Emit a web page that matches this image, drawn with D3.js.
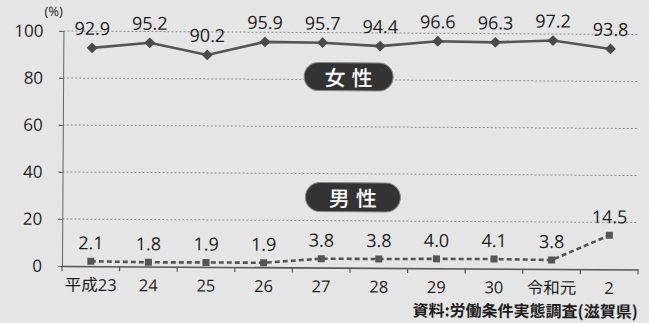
<!DOCTYPE html>
<html>
<head>
<meta charset="utf-8">
<script src="https://cdn.jsdelivr.net/npm/d3@7/dist/d3.min.js"></script>
<style>
  html, body { margin: 0; padding: 0; background: #e8e8e8; }
  svg { display: block; }
  text { font-family: "Open Sans", "Noto Sans CJK JP", sans-serif; fill: #1e1e1e; }
  .jp { font-family: "Noto Sans CJK JP", sans-serif; }
</style>
</head>
<body>
<svg id="chart" width="649" height="323"></svg>
<script>
// 年次（和暦）
const years = ["平成23", "24", "25", "26", "27", "28", "29", "30", "令和元", "2"];
// 育児休業取得率（%）
const female = [92.9, 95.2, 90.2, 95.9, 95.7, 94.4, 96.6, 96.3, 97.2, 93.8];
const male = [2.1, 1.8, 1.9, 1.9, 3.8, 3.8, 4.0, 4.1, 3.8, 14.5];
const yTicks = [0, 20, 40, 60, 80, 100];
const source = "資料:労働条件実態調査(滋賀県)";

const svg = d3.select("#chart");
const W = 649, H = 323;
const mLeft = 62, mRight = 638, mTop = 31, mBottom = 266;

// paper texture
const defs = svg.append("defs");
const f = defs.append("filter").attr("id", "grain").attr("x", 0).attr("y", 0).attr("width", "100%").attr("height", "100%");
f.append("feTurbulence").attr("type", "fractalNoise").attr("baseFrequency", 0.9).attr("numOctaves", 2).attr("seed", 3).attr("result", "n");
f.append("feColorMatrix").attr("in", "n").attr("type", "matrix")
  .attr("values", "0 0 0 0 0.5  0 0 0 0 0.5  0 0 0 0 0.5  0 0 0 0.12 0");
svg.append("rect").attr("width", W).attr("height", H).attr("fill", "#e8e8e8");
svg.append("rect").attr("width", W).attr("height", H).attr("filter", "url(#grain)");

const g = svg.append("g").attr("transform", "rotate(0.35, 62, 264)");

const x = d3.scaleBand().domain(years).range([mLeft, mRight]);
const y = d3.scaleLinear().domain([0, 100]).range([mBottom, mTop]);
const cx = d => x(d) + x.bandwidth() / 2;

// gridlines
g.append("g").selectAll("line").data(yTicks.filter(v => v > 0)).join("line")
  .attr("x1", mLeft - 4).attr("x2", mRight)
  .attr("y1", d => y(d)).attr("y2", d => y(d))
  .attr("stroke", "#8a8a8a").attr("stroke-width", 1).attr("stroke-dasharray", "2,2");

// y axis
const yAxis = g.append("g").attr("transform", `translate(${mLeft},0)`)
  .call(d3.axisLeft(y).tickValues(yTicks).tickSize(4).tickPadding(6).tickFormat(d3.format("d")));
yAxis.select(".domain").attr("stroke", "#666").attr("stroke-width", 1);
yAxis.selectAll(".tick line").attr("stroke", "#666");
yAxis.selectAll(".tick text").attr("font-size", 17).attr("dx", -10).attr("fill", "#1e1e1e")
  .attr("font-family", "'Open Sans', sans-serif");

g.append("text").attr("x", 43).attr("y", 16).attr("font-size", 13).text("(%)");

// x axis
const xAxis = g.append("g").attr("transform", `translate(0,${mBottom})`)
  .call(d3.axisBottom(x).tickSize(0).tickPadding(13));
xAxis.select(".domain").attr("stroke", "#555").attr("stroke-width", 1.6);
xAxis.selectAll(".tick text").attr("font-size", 16.5).attr("fill", "#1e1e1e")
  .attr("font-family", "'Open Sans', 'Noto Sans CJK JP', sans-serif");
// boundary ticks
const bounds = years.map(d => x(d)).concat([mRight]);
g.append("g").selectAll("line").data(bounds).join("line")
  .attr("x1", d => d).attr("x2", d => d)
  .attr("y1", mBottom).attr("y2", mBottom + 5)
  .attr("stroke", "#555").attr("stroke-width", 1.2);

// female series
const line = d3.line().x((d, i) => cx(years[i])).y(d => y(d));
g.append("path").datum(female).attr("d", line)
  .attr("fill", "none").attr("stroke", "#555").attr("stroke-width", 2.6);
g.append("g").selectAll("path").data(female).join("path")
  .attr("transform", (d, i) => `translate(${cx(years[i])},${y(d)})`)
  .attr("d", d3.symbol(d3.symbolDiamond2, 75))
  .attr("fill", "#4a4a4a");
g.append("g").selectAll("text").data(female).join("text")
  .attr("x", (d, i) => cx(years[i]))
  .attr("y", d => y(d) - 13)
  .attr("text-anchor", "middle").attr("font-size", 18)
  .text(d => d.toFixed(1));

// male series
g.append("path").datum(male).attr("d", line)
  .attr("fill", "none").attr("stroke", "#555").attr("stroke-width", 2.6)
  .attr("stroke-dasharray", "5,3");
g.append("g").selectAll("rect").data(male).join("rect")
  .attr("x", (d, i) => cx(years[i]) - 3.5).attr("y", d => y(d) - 3.5)
  .attr("width", 7).attr("height", 7).attr("fill", "#555");
g.append("g").selectAll("text").data(male).join("text")
  .attr("x", (d, i) => cx(years[i]))
  .attr("y", d => y(d) - 12)
  .attr("text-anchor", "middle").attr("font-size", 18)
  .text(d => d.toFixed(1));

// series badges
function badge(label, bx, by, bw, bh) {
  g.append("rect").attr("x", bx).attr("y", by).attr("width", bw).attr("height", bh)
    .attr("rx", bh / 2).attr("fill", "#333").attr("stroke", "#888").attr("stroke-width", 1);
  g.append("text").attr("class", "jp").attr("x", bx + bw / 2).attr("y", by + bh / 2)
    .attr("text-anchor", "middle").attr("dominant-baseline", "central")
    .attr("font-size", 21).attr("font-weight", 500).attr("letter-spacing", 6).attr("dx", 3)
    .style("fill", "#fff").text(label);
}
badge("女性", 303, 61, 89, 28);
badge("男性", 305, 181, 95, 29);

// source note
g.append("text").attr("class", "jp").attr("x", mRight).attr("y", 314)
  .attr("text-anchor", "end").attr("font-size", 16).attr("font-weight", "bold")
  .text(source);
</script>
</body>
</html>
